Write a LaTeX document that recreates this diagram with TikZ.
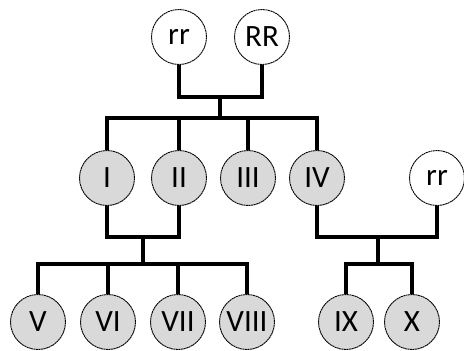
\documentclass[tikz,border=0pt]{standalone}
\usepackage{fontspec}
\setmainfont{Carlito}
\begin{document}
\begin{tikzpicture}[x=1pt,y=-1pt,
  person/.style={circle,draw=black,line width=0.9pt,dash pattern=on 2pt off 0.5pt,minimum size=55pt,inner sep=0pt,font=\fontsize{31}{33}\selectfont},
  child/.style={person,fill=black!15},
  parent/.style={person,fill=white},
  link/.style={line width=3.3pt,black}]
\useasboundingbox (0,0) rectangle (464,351);
\node[parent] (rrA) at (179,37) {rr};
\node[parent] (RR) at (262,37) {RR};
\node[child] (I) at (107,178) {I};
\node[child] (II) at (179,178) {II};
\node[child] (III) at (248,178) {III};
\node[child] (IV) at (317,178) {IV};
\node[parent] (rrB) at (437,178) {rr};
\node[child] (V) at (38,322) {V};
\node[child] (VI) at (108,322) {VI};
\node[child] (VII) at (178,322) {VII};
\node[child] (VIII) at (247,322) {VIII};
\node[child] (IX) at (346,322) {IX};
\node[child] (X) at (412,322) {X};
\coordinate (a) at (220,97);
\coordinate (b) at (220,118);
\coordinate (c) at (143,237);
\coordinate (d) at (143,264);
\coordinate (e) at (378,237);
\coordinate (f) at (378,264);
\begin{scope}[link]
\draw (rrA.south) |- (a) -| (RR.south);
\draw (a) -- (b);
\draw (I.north) |- (b) -| (IV.north);
\draw (II.north) -- (II.north |- b);
\draw (III.north) -- (III.north |- b);
\draw (I.south) |- (c) -| (II.south);
\draw (c) -- (d);
\draw (V.north) |- (d) -| (VIII.north);
\draw (VI.north) -- (VI.north |- d);
\draw (VII.north) -- (VII.north |- d);
\draw (IV.south) |- (e) -| (rrB.south);
\draw (e) -- (f);
\draw (IX.north) |- (f) -| (X.north);
\end{scope}
\end{tikzpicture}
\end{document}
